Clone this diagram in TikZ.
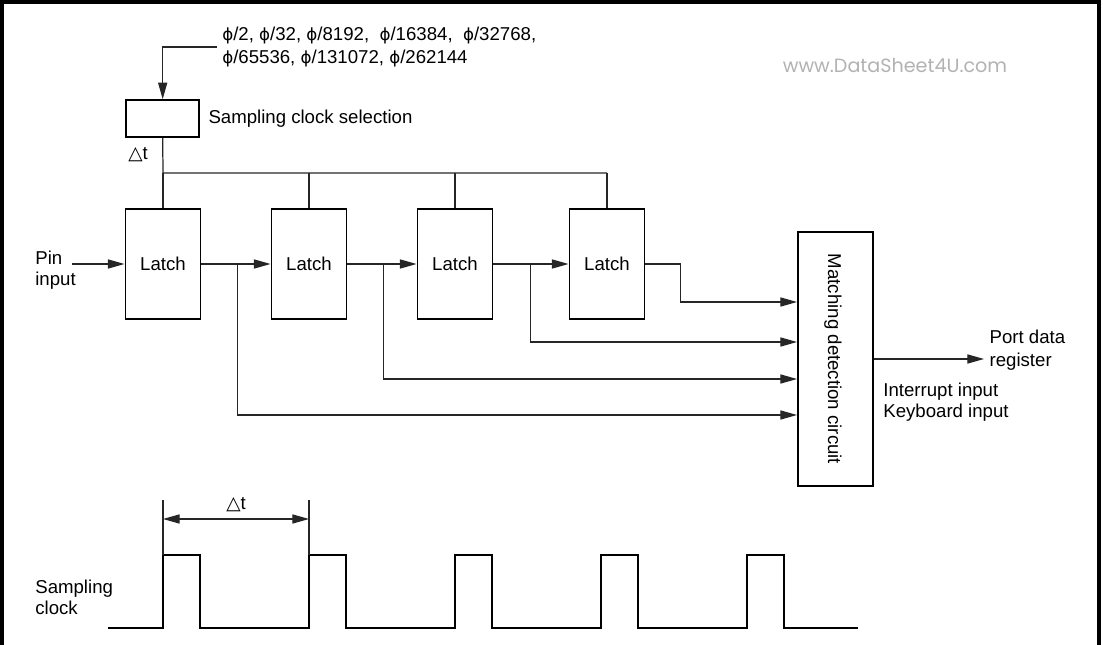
\documentclass[tikz,border=0pt]{standalone}
\usepackage{fontspec}
\setmainfont{Liberation Sans}
\newfontfamily\symf{DejaVu Sans}
\newfontfamily\wmfont{Poppins}
\usepackage{tikz}
\usetikzlibrary{arrows.meta, positioning}
\newcommand{\phis}{{\symf\fontsize{9.5}{12}\selectfont ϕ}}

\begin{document}
\begin{tikzpicture}[x=0.02cm, y=-0.02cm, font=\fontsize{10.6}{12}\selectfont,
    box/.style={draw, line width=1.1pt, inner sep=0pt},
    wire/.style={draw=black!85, line width=0.7pt},
    arr/.style={wire, -{Triangle[length=9.5pt, width=5.2pt]}},
    lbl/.style={align=left, inner sep=0pt},
    wave/.style={line width=1.1pt, line join=miter}]
    \useasboundingbox (0,0) rectangle (1103,645);
    \draw[line width=2pt] (1.8,645) -- (1.8,1.8) -- (1099,1.8) -- (1099,645);
    \node[text=black!30, font=\wmfont\fontsize{10.9}{12}\selectfont] (wm) at (895,66) {www.DataSheet4U.com};

    \node[box, minimum width=1.46cm, minimum height=0.74cm] (sel) at (162.7, 118.7) {};
    \node[lbl, anchor=west, inner sep=2.8pt, font=\fontsize{10.6}{13}\selectfont] (clk) at (217, 47)
        {\phis/2, \phis/32, \phis/8192, \ \phis/16384, \ \phis/32768,\\\phis/65536, \phis/131072, \phis/262144};
    \node[lbl, right=0.16cm of sel] (seltxt) {Sampling clock selection};
    \node[lbl] (dt) at (138, 155) {{\symf △}t};

    \node[box, minimum width=1.5cm, minimum height=2.2cm] (l1) at (163, 264) {Latch};
    \node[box, minimum width=1.5cm, minimum height=2.2cm] (l2) at (309, 264) {Latch};
    \node[box, minimum width=1.5cm, minimum height=2.2cm] (l3) at (455, 264) {Latch};
    \node[box, minimum width=1.5cm, minimum height=2.2cm] (l4) at (607, 264) {Latch};
    \node[box, minimum width=1.5cm, minimum height=5.08cm] (mdc) at (835.5, 359) {};
    \node[rotate=-90] (mdctxt) at (833, 359) {Matching detection circuit};

    \node[lbl, anchor=west] (pin) at (35, 270.5) {Pin\\input};
    \coordinate (pinin) at (72, 264);
    \node[lbl, anchor=west, inner sep=3pt, font=\fontsize{10.6}{13}\selectfont] (pdr) at (984, 350.5) {Port data\\register};
    \node[lbl, anchor=west] (intr) at (883, 402.5) {Interrupt input\\Keyboard input};

    \draw[arr] (clk.west) -| (sel.north);
    \coordinate (bus) at (163, 173);
    \draw[wire] (sel.south) -- (bus) -- (l4.north |- bus);
    \foreach \i in {2,3,4} \draw[wire] (l\i.north |- bus) -- (l\i.north);
    \draw[wire] (bus) -- (l1.north);

    \draw[arr] (pinin) -- (l1.west);
    \draw[arr] (l1.east) -- (l2.west);
    \draw[arr] (l2.east) -- (l3.west);
    \draw[arr] (l3.east) -- (l4.west);
    \draw[arr] (l4.east) -- ++(35,0) |- (mdc.west |- 0,302);
    \draw[arr] (l3.east) ++(37,0) |- (mdc.west |- 0,342);
    \draw[arr] (l2.east) ++(36,0) |- (mdc.west |- 0,379);
    \draw[arr] (l1.east) ++(36,0) |- (mdc.west |- 0,415);
    \draw[arr] (mdc.east) -- (mdc.east -| pdr.west);

    \node[lbl, anchor=west] (sclk) at (35, 597.5) {Sampling\\clock};
    \draw[wave] (108,628) \foreach \x in {163,309,455,601,747} {-- (\x,628) -- (\x,555) -- (\x+37,555) -- (\x+37,628)} -- (858,628);
    \coordinate (p1) at (163, 555);
    \coordinate (p2) at (309, 555);
    \coordinate (d1) at (163, 519);
    \coordinate (d2) at (309, 519);
    \draw[wire] (p1) -- (163, 500);
    \draw[wire] (p2) -- (309, 500);
    \draw[wire, {Triangle[length=9.5pt, width=5.2pt]}-{Triangle[length=9.5pt, width=5.2pt]}] (d1) -- node[above=4pt, inner sep=0pt] (dtlbl) {{\symf △}t} (d2);
\end{tikzpicture}
\end{document}
